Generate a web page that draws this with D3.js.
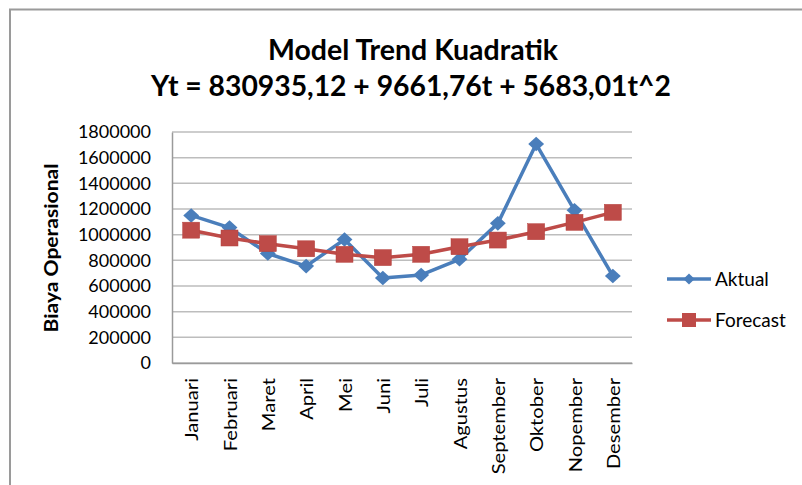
<!DOCTYPE html>
<html><head><meta charset="utf-8">
<script src="https://cdn.jsdelivr.net/npm/d3@7"></script>
<style>
html,body{margin:0;padding:0;background:#fff;}
svg{display:block;}
text{font-family:Lato,"Open Sans",sans-serif;fill:#000;}
</style></head>
<body>
<script>
const months = ["Januari","Februari","Maret","April","Mei","Juni","Juli","Agustus","September","Oktober","Nopember","Desember"];
const aktual = [1150000,1055000,853000,755000,962000,662000,686000,808000,1088000,1706000,1190000,678000];
const forecast = [1035000,974000,930000,890000,847000,821000,847000,906000,958000,1023000,1096000,1174000];
const yTicks = [0,200000,400000,600000,800000,1000000,1200000,1400000,1600000,1800000];
const titleLines = ["Model Trend Kuadratik","Yt = 830935,12 + 9661,76t + 5683,01t^2"];
const yLabel = "Biaya Operasional";
const seriesNames = ["Aktual","Forecast"];

const W = 802, H = 485;
const svg = d3.select("body").append("svg").attr("width",W).attr("height",H);

// outer frame (cropped at right/bottom)
svg.append("path").attr("d","M10,485 L10,9.5 L802,9.5").attr("fill","none").attr("stroke","#9a9a9a").attr("stroke-width",2);

const plot = {left:172, right:632, top:132, bottom:363};
const x = d3.scaleBand().domain(months).range([plot.left, plot.right]);
const y = d3.scaleLinear().domain([0,1800000]).range([plot.bottom, plot.top]);

// gridlines
svg.append("g").selectAll("line").data(yTicks).join("line")
  .attr("x1",plot.left).attr("x2",plot.right)
  .attr("y1",d=>y(d)).attr("y2",d=>y(d))
  .attr("stroke","#bdbdbd").attr("stroke-width",1.5);

// y axis
const yAxis = svg.append("g").attr("transform",`translate(${plot.left},0)`)
  .call(d3.axisLeft(y).tickValues(yTicks).tickFormat(d=>String(d)).tickSize(0).tickPadding(21));
yAxis.select(".domain").attr("stroke","#9a9a9a").attr("stroke-width",1.5);
yAxis.selectAll("text").style("font-family","Lato,sans-serif").style("font-size","18px").attr("fill","#000");

// x axis
const xAxis = svg.append("g").attr("transform",`translate(0,${plot.bottom})`)
  .call(d3.axisBottom(x).tickSize(0).tickPadding(0));
xAxis.select(".domain").attr("stroke","#9a9a9a").attr("stroke-width",1.5);
xAxis.selectAll("text")
  .style("font-family","Lato,sans-serif").style("font-size","18px").attr("fill","#000")
  .attr("text-anchor","end").attr("dy",null).attr("y",0)
  .attr("transform","translate(7,15) rotate(-90) scale(1.12,1)");

// y label
svg.append("text").attr("transform","translate(58,248) rotate(-90) scale(1.17,1)")
  .attr("text-anchor","middle").style("font-size","18px").style("font-weight","bold").text(yLabel);

// title
svg.append("text").attr("x",413).attr("y",59.5).attr("text-anchor","middle")
  .style("font-size","28.5px").style("font-weight","bold").text(titleLines[0]);
svg.append("text").attr("x",411).attr("y",96).attr("text-anchor","middle")
  .style("font-size","28.3px").style("font-weight","bold").text(titleLines[1]);

const cx = d => x(d) + x.bandwidth()/2;
const blue = "#4a7ebb", red = "#be4b48";
const line = d3.line().x(d=>cx(d.m)).y(d=>y(d.v));
const aData = months.map((m,i)=>({m, v:aktual[i]}));
const fData = months.map((m,i)=>({m, v:forecast[i]}));

svg.append("path").datum(aData).attr("d",line).attr("fill","none").attr("stroke",blue).attr("stroke-width",3.5).attr("stroke-linejoin","round");
svg.append("g").selectAll("path").data(aData).join("path")
  .attr("d",d3.symbol(d3.symbolDiamond2, 160))
  .attr("transform",d=>`translate(${cx(d.m)},${y(d.v)}) scale(1,0.92)`)
  .attr("fill",blue);

svg.append("path").datum(fData).attr("d",line).attr("fill","none").attr("stroke",red).attr("stroke-width",3.5).attr("stroke-linejoin","round");
svg.append("g").selectAll("rect").data(fData).join("rect")
  .attr("x",d=>cx(d.m)-8.5).attr("y",d=>y(d.v)-8).attr("width",17).attr("height",16)
  .attr("fill",red).attr("stroke","#b5403d").attr("stroke-width",0.5);

// legend
const lg = svg.append("g");
const legendItems = [{name:seriesNames[0], color:blue, y:279, sym:"d"},{name:seriesNames[1], color:red, y:320, sym:"s"}];
legendItems.forEach(it=>{
  lg.append("line").attr("x1",667).attr("x2",711).attr("y1",it.y).attr("y2",it.y).attr("stroke",it.color).attr("stroke-width",3.5);
  if(it.sym==="d"){
    lg.append("path").attr("d",d3.symbol(d3.symbolDiamond2,80)).attr("transform",`translate(689,${it.y})`).attr("fill",it.color);
  } else {
    lg.append("rect").attr("x",682).attr("y",it.y-7).attr("width",14).attr("height",14).attr("fill",it.color);
  }
  lg.append("text").attr("x",715).attr("y",it.y+6.5).style("font-size","19px").text(it.name);
});
</script>
</body></html>
